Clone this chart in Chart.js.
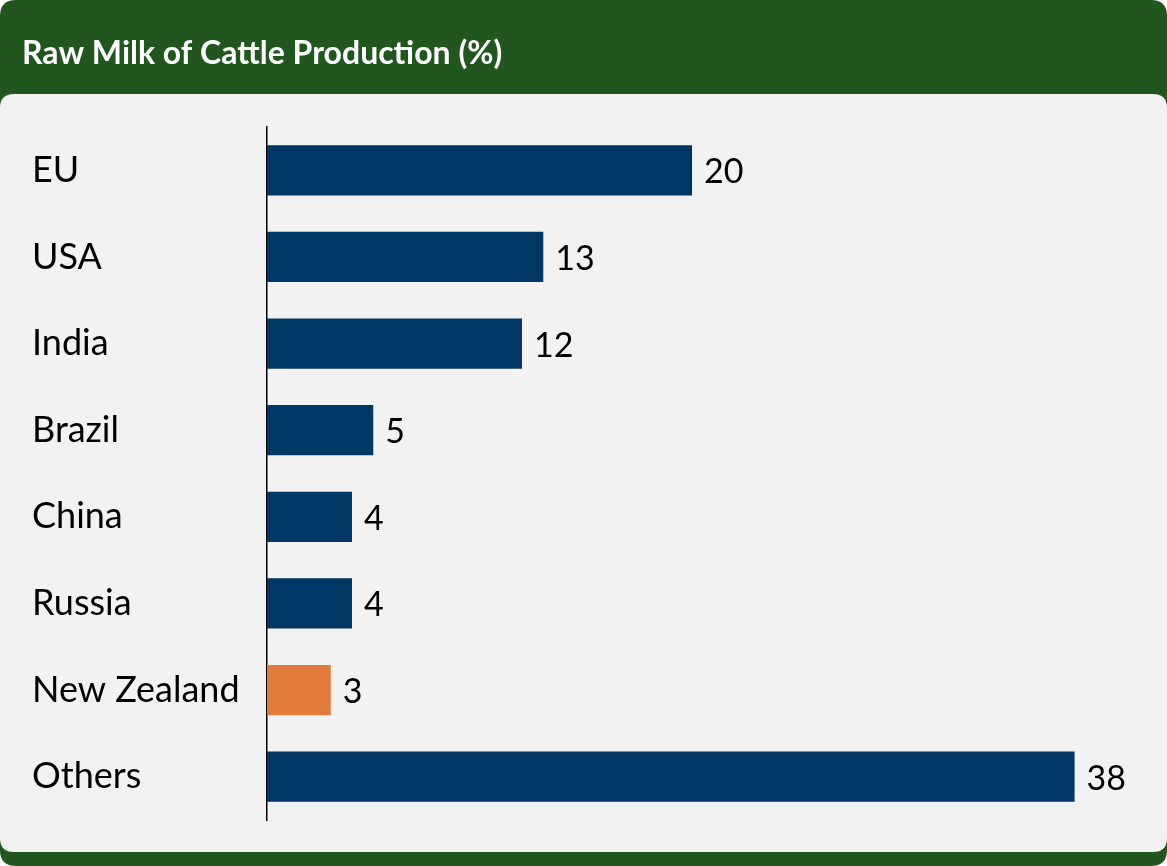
<!DOCTYPE html>
<html>
<head>
<meta charset="utf-8">
<script src="https://cdn.jsdelivr.net/npm/chart.js@4"></script>
<style>
html,body{margin:0;padding:0;background:#ffffff;}
#wrap{width:1167px;height:866px;position:relative;}
</style>
</head>
<body>
<div id="wrap"><canvas id="c" width="1167" height="866"></canvas></div>
<script>
const titleText = "Raw Milk of Cattle Production (%)";
const categories = ["EU", "USA", "India", "Brazil", "China", "Russia", "New Zealand", "Others"];
const shares = [20, 13, 12, 5, 4, 4, 3, 38];
const highlight = ["New Zealand"];

const GREEN = "#22561f";
const PANEL = "#f2f2f2";
const NAVY = "#003764";
const ORANGE = "#e07b3c";
const FONT = "Lato";

function rr(ctx, x, y, w, h, r) {
  ctx.beginPath();
  ctx.moveTo(x + r, y);
  ctx.lineTo(x + w - r, y);
  ctx.quadraticCurveTo(x + w, y, x + w, y + r);
  ctx.lineTo(x + w, y + h - r);
  ctx.quadraticCurveTo(x + w, y + h, x + w - r, y + h);
  ctx.lineTo(x + r, y + h);
  ctx.quadraticCurveTo(x, y + h, x, y + h - r);
  ctx.lineTo(x, y + r);
  ctx.quadraticCurveTo(x, y, x + r, y);
  ctx.closePath();
}

const bgPlugin = {
  id: "bg",
  beforeDraw(chart) {
    const ctx = chart.ctx;
    const W = chart.width, H = chart.height;
    ctx.save();
    ctx.fillStyle = "#ffffff";
    ctx.fillRect(0, 0, W, H);
    ctx.fillStyle = GREEN;
    rr(ctx, 0, 0, W, H, 16);
    ctx.fill();
    ctx.fillStyle = PANEL;
    rr(ctx, 0, 94, W, 758, 14);
    ctx.fill();
    ctx.fillStyle = "#ffffff";
    ctx.font = "bold 32px " + FONT;
    ctx.textAlign = "left";
    ctx.textBaseline = "alphabetic";
    ctx.fillText(titleText, 22, 64);
    ctx.restore();
  }
};

const valuePlugin = {
  id: "values",
  afterDatasetsDraw(chart) {
    const ctx = chart.ctx;
    const meta = chart.getDatasetMeta(0);
    ctx.save();
    ctx.fillStyle = "#000000";
    ctx.font = "34px " + FONT;
    ctx.textAlign = "left";
    ctx.textBaseline = "middle";
    meta.data.forEach((bar, i) => {
      ctx.fillText(String(shares[i]), bar.x + 12, bar.y + 2);
    });
    ctx.restore();
  }
};

new Chart(document.getElementById("c"), {
  type: "bar",
  data: {
    labels: categories,
    datasets: [{
      data: shares,
      backgroundColor: categories.map(c => highlight.includes(c) ? ORANGE : NAVY),
      borderWidth: 0,
      categoryPercentage: 1,
      barPercentage: 0.58
    }]
  },
  options: {
    indexAxis: "y",
    responsive: false,
    animation: false,
    layout: { padding: { left: 32, top: 127, bottom: 46, right: 0 } },
    plugins: { legend: { display: false }, tooltip: { enabled: false }, title: { display: false } },
    scales: {
      x: { display: false, min: 0, max: 42.35 },
      y: {
        afterFit(scale) { scale.width = 235; },
        grid: { display: false, drawTicks: false },
        border: { display: true, color: "#000000", width: 1.5 },
        ticks: {
          crossAlign: "far",
          color: "#000000",
          font: { family: FONT, size: 36 },
          padding: 0
        }
      }
    }
  },
  plugins: [bgPlugin, valuePlugin]
});
</script>
</body>
</html>
